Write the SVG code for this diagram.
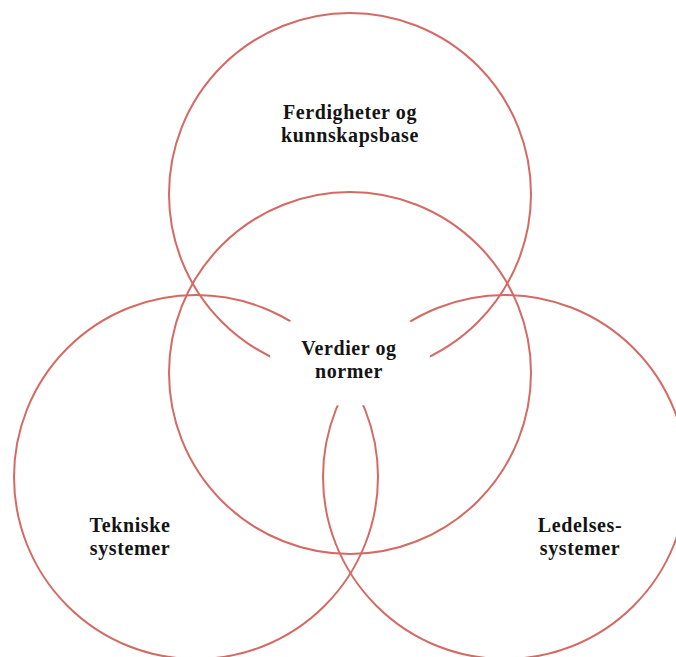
<svg xmlns="http://www.w3.org/2000/svg" width="676" height="657" viewBox="0 0 676 657">
  <style>
    .ring { fill: none; stroke: #d46a64; stroke-width: 2; }
    .label { font-family: "Liberation Serif", "DejaVu Serif", serif; font-weight: bold; font-size: 20px; letter-spacing: 0.6px; fill: #141414; text-anchor: middle; }
  </style>
  <defs>
    <!-- clears the arcs around the centre label -->
    <mask id="centre-clear" maskUnits="userSpaceOnUse" x="0" y="0" width="676" height="657">
      <rect x="0" y="0" width="676" height="657" fill="#fff"/>
      <ellipse cx="350" cy="355" rx="80" ry="51" fill="#000"/>
    </mask>
  </defs>
  <rect width="676" height="657" fill="#fff"/>

  <g id="connectors"></g>

  <g id="node-ferdigheter">
    <circle class="ring" cx="350" cy="194" r="181" mask="url(#centre-clear)"/>
    <text class="label" x="350" y="119">Ferdigheter og</text>
    <text class="label" x="350" y="142">kunnskapsbase</text>
  </g>

  <g id="node-tekniske">
    <circle class="ring" cx="196" cy="477" r="182" mask="url(#centre-clear)"/>
    <text class="label" x="130" y="532">Tekniske</text>
    <text class="label" x="130" y="555">systemer</text>
  </g>

  <g id="node-ledelses">
    <circle class="ring" cx="505" cy="477" r="182" mask="url(#centre-clear)"/>
    <text class="label" x="580" y="532">Ledelses-</text>
    <text class="label" x="580" y="555">systemer</text>
  </g>

  <g id="node-verdier">
    <circle class="ring" cx="350" cy="373" r="181"/>
    <text class="label" x="349" y="355">Verdier og</text>
    <text class="label" x="349" y="378">normer</text>
  </g>
</svg>
